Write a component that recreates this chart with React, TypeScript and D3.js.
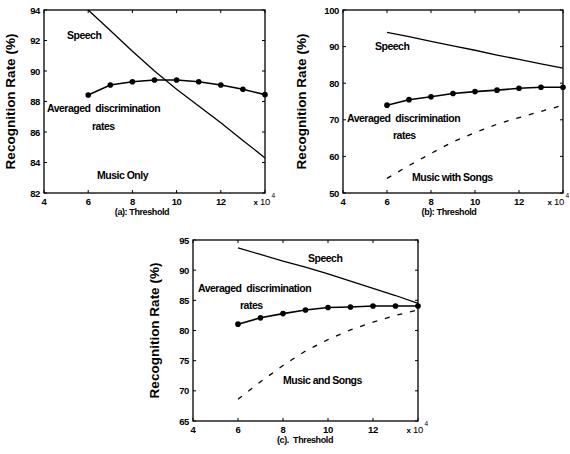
import React from "react";
import * as d3 from "d3";

// Threshold values (x 10^4)
const thresholds = [6, 7, 8, 9, 10, 11, 12, 13, 14];
const xTicks = [4, 6, 8, 10, 12];

// (a) Music only
const speechA = [94.0, 92.65, 91.3, 90.0, 88.8, 87.7, 86.6, 85.45, 84.3];
const avgA = [88.43, 89.08, 89.3, 89.41, 89.41, 89.3, 89.08, 88.8, 88.45];
const yTicksA = [82, 84, 86, 88, 90, 92, 94];

// (b) Music with songs
const speechB = [93.9, 92.7, 91.4, 90.2, 89.0, 87.7, 86.5, 85.3, 84.1];
const avgB = [74.0, 75.5, 76.3, 77.2, 77.7, 78.1, 78.6, 78.9, 78.9];
const musicB = [54.0, 57.5, 60.8, 64.0, 66.5, 68.8, 70.6, 72.3, 74.0];
const yTicksB = [50, 60, 70, 80, 90, 100];

// (c) Music and songs
const speechC = [93.7, 92.6, 91.5, 90.5, 89.4, 88.2, 87.0, 85.8, 84.5];
const avgC = [81.05, 82.1, 82.8, 83.4, 83.8, 83.9, 84.05, 84.05, 84.05];
const musicC = [68.6, 71.5, 74.2, 76.6, 78.5, 80.1, 81.4, 82.5, 83.4];
const yTicksC = [65, 70, 75, 80, 85, 90, 95];

const FONT = "'Liberation Sans', Arial, Helvetica, sans-serif";

type Note = { text: string; x: number; y: number };

type PanelProps = {
  left: number;
  right: number;
  top: number;
  bottom: number;
  yDomain: [number, number];
  yTicks: number[];
  speech: number[];
  avg: number[];
  music?: number[];
  notes: Note[];
  caption: string;
  captionX: number;
  yLabelOffset: number;
  expShift: number;
};

function Panel(p: PanelProps) {
  const x = d3.scaleLinear().domain([4, 14]).range([p.left, p.right]);
  const y = d3.scaleLinear().domain(p.yDomain).range([p.bottom, p.top]);
  const line = d3
    .line<number>()
    .x((_, i) => x(thresholds[i]))
    .y((d) => y(d));
  const tl = 3;
  const midY = (p.top + p.bottom) / 2;
  const ex = x(14) + p.expShift;
  return (
    <g>
      <rect
        x={p.left}
        y={p.top}
        width={p.right - p.left}
        height={p.bottom - p.top}
        fill="none"
        stroke="#000"
        strokeWidth={1.3}
      />
      {p.yTicks.map((t) => (
        <g key={"y" + t}>
          <line x1={p.left} x2={p.left + tl} y1={y(t)} y2={y(t)} stroke="#000" />
          <line x1={p.right} x2={p.right - tl} y1={y(t)} y2={y(t)} stroke="#000" />
          <text
            x={p.left - 4}
            y={y(t) + 3.5}
            textAnchor="end"
            fontSize={9.5}
            fontWeight="bold"
            fontFamily={FONT}
            letterSpacing={-0.4}
          >
            {t}
          </text>
        </g>
      ))}
      {[...xTicks, 14].map((t) => (
        <g key={"x" + t}>
          <line x1={x(t)} x2={x(t)} y1={p.bottom} y2={p.bottom - tl} stroke="#000" />
          <line x1={x(t)} x2={x(t)} y1={p.top} y2={p.top + tl} stroke="#000" />
        </g>
      ))}
      {xTicks.map((t) => (
        <text
          key={"xl" + t}
          x={x(t)}
          y={p.bottom + 12}
          textAnchor="middle"
          fontSize={9.5}
          fontWeight="bold"
          fontFamily={FONT}
          letterSpacing={-0.4}
        >
          {t}
        </text>
      ))}
      <text
        x={ex - 7}
        y={p.bottom + 12}
        textAnchor="end"
        fontSize={8}
        fontWeight="bold"
        fontFamily={FONT}
      >
        x
      </text>
      <text
        x={ex - 5}
        y={p.bottom + 12}
        fontSize={9.5}
        fontFamily={FONT}
        letterSpacing={-0.3}
      >
        10
      </text>
      <text x={ex + 6.5} y={p.bottom + 5} fontSize={6.5} fontFamily={FONT}>
        4
      </text>
      <text
        x={p.captionX}
        y={p.bottom + 22}
        textAnchor="middle"
        fontSize={9}
        fontWeight="bold"
        fontFamily={FONT}
        letterSpacing={-0.4}
        style={{ whiteSpace: "pre" }}
      >
        {p.caption}
      </text>
      <text
        transform={`translate(${p.left + p.yLabelOffset},${midY}) rotate(-90)`}
        textAnchor="middle"
        fontSize={13.5}
        fontWeight="bold"
        fontFamily={FONT}
      >
        Recognition Rate (%)
      </text>
      <path d={line(p.speech) ?? ""} fill="none" stroke="#000" strokeWidth={1.3} />
      {p.music && (
        <path
          d={line(p.music) ?? ""}
          fill="none"
          stroke="#000"
          strokeWidth={1.3}
          strokeDasharray="5,8"
        />
      )}
      <path d={line(p.avg) ?? ""} fill="none" stroke="#000" strokeWidth={1.6} />
      {p.avg.map((v, i) => (
        <circle key={"d" + i} cx={x(thresholds[i])} cy={y(v)} r={2.8} fill="#000" />
      ))}
      {p.notes.map((n, i) => (
        <text
          key={"n" + i}
          x={n.x}
          y={n.y}
          fontSize={10.5}
          fontWeight="bold"
          fontFamily={FONT}
          letterSpacing={-0.5}
          style={{ whiteSpace: "pre" }}
        >
          {n.text}
        </text>
      ))}
    </g>
  );
}

export default function App() {
  return (
    <svg
      width={570}
      height={454}
      style={{ position: "absolute", left: 0, top: 0, background: "#fff" }}
    >
      <rect width={570} height={454} fill="#fff" />
      <Panel
        left={44}
        right={265}
        top={10}
        bottom={193}
        yDomain={[82, 94]}
        yTicks={yTicksA}
        speech={speechA}
        avg={avgA}
        caption="(a): Threshold"
        captionX={142}
        yLabelOffset={-29}
        expShift={0}
        notes={[
          { text: "Speech", x: 67, y: 39 },
          { text: "Averaged  discrimination", x: 47, y: 112 },
          { text: "rates", x: 92, y: 130 },
          { text: "Music Only", x: 97, y: 179 },
        ]}
      />
      <Panel
        left={343}
        right={563}
        top={10}
        bottom={193}
        yDomain={[50, 100]}
        yTicks={yTicksB}
        speech={speechB}
        avg={avgB}
        music={musicB}
        caption="(b): Threshold"
        captionX={449}
        yLabelOffset={-37}
        expShift={-4}
        notes={[
          { text: "Speech", x: 375, y: 50 },
          { text: "Averaged  discrimination", x: 347, y: 122 },
          { text: "rates", x: 393, y: 139 },
          { text: "Music with Songs", x: 412, y: 181 },
        ]}
      />
      <Panel
        left={193}
        right={418}
        top={240}
        bottom={421}
        yDomain={[65, 95]}
        yTicks={yTicksC}
        speech={speechC}
        avg={avgC}
        music={musicC}
        caption="(c).  Threshold"
        captionX={305}
        yLabelOffset={-34}
        expShift={0}
        notes={[
          { text: "Speech", x: 308, y: 262 },
          { text: "Averaged  discrimination", x: 198, y: 292 },
          { text: "rates", x: 240, y: 309 },
          { text: "Music and Songs", x: 283, y: 384 },
        ]}
      />
    </svg>
  );
}
